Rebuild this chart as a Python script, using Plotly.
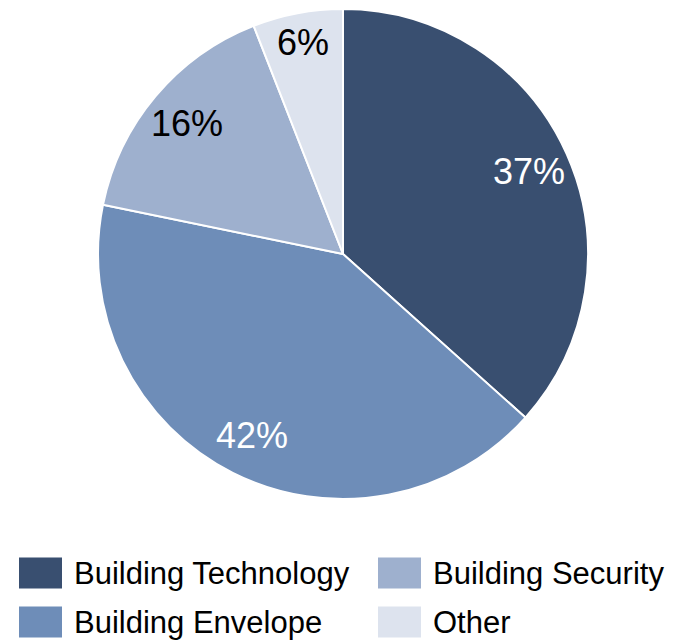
import math
import plotly.graph_objects as go

# Share of revenue by segment
labels = ["Building Technology", "Building Envelope", "Building Security", "Other"]
values = [37, 42, 16, 6]
colors = ["#394f70", "#6e8db8", "#9eb0ce", "#dde3ee"]
label_colors = ["white", "white", "black", "black"]

W, H = 686, 642
CX, CY, R = 343, 254, 245  # pie centre and radius in pixels

def px_x(x):
    return x / W

def px_y(y):
    return 1 - y / H

fig = go.Figure(
    go.Pie(
        labels=labels,
        values=values,
        sort=False,
        direction="clockwise",
        rotation=0,
        marker=dict(colors=colors, line=dict(color="white", width=2)),
        textinfo="none",
        hoverinfo="label+value",
        showlegend=False,
        domain=dict(x=[px_x(CX - R), px_x(CX + R)], y=[px_y(CY + R), px_y(CY - R)]),
    )
)

annotations = []
shapes = []

# Slice labels placed at each slice's mid-angle
total = sum(values)
cum = 0
for v, c in zip(values, label_colors):
    mid = (cum + v / 2) / total * 2 * math.pi
    cum += v
    rr = R * (0.88 if v < 10 else 0.83)
    x = CX + rr * math.sin(mid)
    y = CY - rr * math.cos(mid)
    annotations.append(dict(
        x=px_x(x), y=px_y(y), xref="paper", yref="paper",
        text=f"{v}%", showarrow=False,
        font=dict(family="Liberation Sans, Arial, sans-serif", size=36, color=c),
        xanchor="center", yanchor="middle",
    ))

# Two-column legend below the pie
col_x = [19, 378]
row_y = [573, 622]
sw, sh = 43, 31
for i, (lab, col) in enumerate(zip(labels, colors)):
    cx = col_x[i // 2]
    cy = row_y[i % 2]
    shapes.append(dict(
        type="rect", xref="paper", yref="paper",
        x0=px_x(cx), x1=px_x(cx + sw), y0=px_y(cy + sh / 2), y1=px_y(cy - sh / 2),
        fillcolor=col, line=dict(width=0),
    ))
    annotations.append(dict(
        x=px_x(cx + sw + 10), y=px_y(cy), xref="paper", yref="paper",
        text=lab, showarrow=False,
        font=dict(family="Liberation Sans, Arial, sans-serif", size=31, color="black"),
        xanchor="left", yanchor="middle",
    ))

fig.update_layout(
    width=W, height=H,
    margin=dict(l=0, r=0, t=0, b=0),
    paper_bgcolor="white",
    plot_bgcolor="white",
    annotations=annotations,
    shapes=shapes,
)

fig.write_html("out.html")
